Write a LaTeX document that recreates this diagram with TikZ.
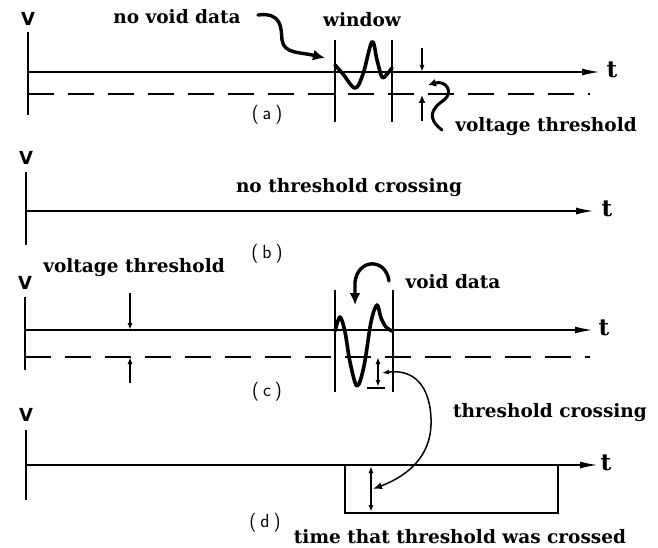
\documentclass[tikz,border=0pt]{standalone}
\usepackage{fontspec}
\newfontfamily\lblfont{DejaVu Serif}
\newfontfamily\axfont{DejaVu Sans}
\usetikzlibrary{arrows.meta}
\begin{document}
\begin{tikzpicture}[x=1pt,y=-1pt,
  lbl/.style={font=\lblfont\fontsize{18.5}{21}\selectfont\bfseries, inner sep=0pt},
  vlab/.style={font=\axfont\fontsize{18}{20}\selectfont\bfseries, inner sep=0pt},
  tlab/.style={font=\lblfont\fontsize{23}{26}\selectfont\bfseries, inner sep=0pt},
  sublab/.style={font=\fontsize{19}{22}\selectfont\sffamily, inner sep=0pt},
  axisline/.style={line width=1.8pt},
  timeaxis/.style={line width=1.8pt, -{Latex[length=18pt,width=7pt]}},
  thrline/.style={line width=1.6pt, dash pattern=on 26pt off 14pt},
  winline/.style={line width=1.4pt},
  wave/.style={line width=3.6pt, line cap=round, line join=round},
  bigarrow/.style={line width=3.4pt, line cap=round, -{Latex[length=12pt,width=11pt]}},
  thinarrow/.style={line width=1.4pt, -{Latex[length=7pt,width=5pt]}},
  thickarrow/.style={line width=2.6pt, -{Latex[length=8pt,width=7pt]}},
  dblarrow/.style={line width=1.4pt, {Latex[length=7pt,width=5pt]}-{Latex[length=7pt,width=5pt]}}
]
\useasboundingbox (0,0) rectangle (658,548);

% ---------------- panel (a)
\node[vlab] (Va) at (28,19) {V};
\draw[axisline] (28,32) -- (28,115);
\coordinate (a0) at (28,72);
\coordinate (a1) at (600,72);
\draw[timeaxis] (a0) -- (a1);
\node[tlab] (ta) at (612,70) {t};
\draw[thrline] (28,94) -- (590,94);
\draw[winline] (335,40) -- (335,122);
\draw[winline] (392,40) -- (392,122);
\draw[wave] plot[smooth, tension=0.6] coordinates {(335,65) (343,74) (355,88) (363,74) (372,42) (377,60) (382,77) (387,74) (392,68)};
\node[lbl] (win) at (362,20) {window};
\node[lbl] (nvd) at (177,17) {no void data};
\coordinate (nvdS) at (258,15);
\coordinate (nvdE) at (325,58);
\draw[bigarrow] (nvdS) .. controls (282,12) and (281,28) .. (282,40)
  .. controls (284,54) and (300,52) .. (nvdE);
\coordinate (ua1) at (422,48);
\coordinate (ua2) at (422,72);
\draw[thinarrow] (ua1) -- (ua2);
\coordinate (la1) at (422,121);
\coordinate (la2) at (422,95);
\draw[thickarrow] (la1) -- (la2);
\node[lbl] (vta) at (546,127) {voltage threshold};
\coordinate (hkS) at (442,130);
\coordinate (hkE) at (428,85);
\draw[line width=3pt, line cap=round, -{Latex[length=8pt,width=8pt]}] (hkS) .. controls (426,118) and (432,108) .. (444,100)
  .. controls (454,92) and (446,80) .. (hkE);
\node[sublab] (la) at (267,115) {(\kern4pt a\kern4pt)};

% ---------------- panel (b)
\node[vlab] (Vb) at (26,158) {V};
\draw[axisline] (26,172) -- (26,245);
\coordinate (b0) at (26,211);
\coordinate (b1) at (594,211);
\draw[timeaxis] (b0) -- (b1);
\node[tlab] (tb) at (607,209) {t};
\node[lbl] (ntc) at (349,188) {no threshold crossing};
\node[sublab] (lb) at (267,254) {(\kern4pt b\kern4pt)};

% ---------------- panel (c)
\node[lbl] (vtc) at (134,268) {voltage threshold};
\node[vlab] (Vc) at (25,283) {V};
\draw[axisline] (25,297) -- (25,370);
\coordinate (c0) at (25,330);
\coordinate (c1) at (593,330);
\draw[timeaxis] (c0) -- (c1);
\node[tlab] (tc) at (604,328) {t};
\draw[thrline] (25,357) -- (590,357);
\coordinate (cu1) at (130,293);
\coordinate (cu2) at (130,330);
\draw[thinarrow] (cu1) -- (cu2);
\coordinate (cl1) at (130,383);
\coordinate (cl2) at (130,357);
\draw[thinarrow] (cl1) -- (cl2);
\draw[winline] (335,290) -- (335,392);
\draw[winline] (393,290) -- (393,392);
\draw[wave] plot[smooth, tension=0.55] coordinates {(335,331) (340,317) (345,332) (350,362) (357,386) (364,366) (371,322) (377,305) (381,318) (386,327) (392,331)};
\node[lbl] (vd) at (453,282) {void data};
\coordinate (vdS) at (389,281);
\coordinate (vdE) at (355,305);
\draw[bigarrow] (vdS) .. controls (386,258) and (358,258) .. (355,282) -- (vdE);
\coordinate (cd1) at (378,357);
\coordinate (cd2) at (378,387);
\draw[dblarrow] (cd1) -- (cd2);
\draw[line width=1.4pt] (367,388) -- (385,388);
\node[sublab] (lc) at (267,392) {(\kern4pt c\kern4pt)};

% ---------------- panel (d)
\node[lbl] (tcr) at (550,413) {threshold crossing};
\node[vlab] (Vd) at (26,415) {V};
\draw[axisline] (26,430) -- (26,500);
\coordinate (d0) at (26,465);
\coordinate (d1) at (598,465);
\draw[timeaxis] (d0) -- (d1);
\node[tlab] (td) at (606,463) {t};
\draw[line width=1.5pt] (345,465) rectangle (558,513);
\coordinate (dd1) at (371,466);
\coordinate (dd2) at (371,512);
\draw[dblarrow] (dd1) -- (dd2);
\node[sublab] (ld) at (265,523) {(\kern4pt d\kern4pt)};
\node[lbl] (ttc) at (460,537) {time that threshold was crossed};

% connector between the two crossings
\coordinate (xS) at (382,373);
\coordinate (xE) at (373,489);
\draw[line width=1.5pt, {Latex[length=7pt,width=5pt]}-{Latex[length=9pt,width=7pt]}]
  (xS) .. controls (420,368) and (432,395) .. (431,425)
  .. controls (430,455) and (410,475) .. (xE);
\end{tikzpicture}
\end{document}
